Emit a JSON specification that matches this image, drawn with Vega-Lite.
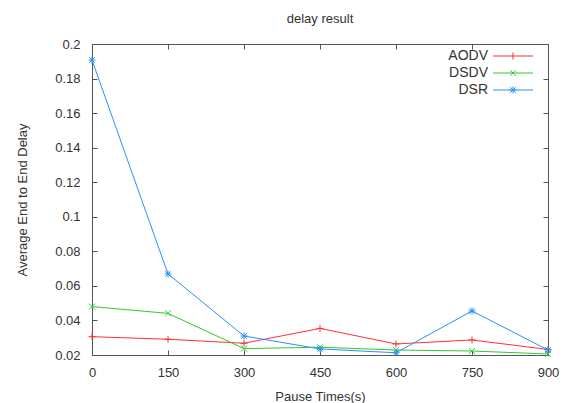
{
  "$schema": "https://vega.github.io/schema/vega-lite/v6.json",
  "width": 456,
  "height": 311,
  "autosize": {"type": "none"},
  "padding": {"left": 92, "top": 44, "right": 20, "bottom": 48},
  "title": {"text": "delay result", "fontSize": 13, "fontWeight": "normal", "font": "Liberation Sans", "color": "#333", "offset": 12},
  "config": {"view": {"stroke": "#555", "strokeWidth": 1}, "font": "Liberation Sans"},
  "data": {"values": [
    {"series": "AODV", "x": 0, "y": 0.0306},
    {"series": "AODV", "x": 150, "y": 0.0291},
    {"series": "AODV", "x": 300, "y": 0.0268},
    {"series": "AODV", "x": 450, "y": 0.0354},
    {"series": "AODV", "x": 600, "y": 0.0264},
    {"series": "AODV", "x": 750, "y": 0.0287},
    {"series": "AODV", "x": 900, "y": 0.0232},
    {"series": "DSDV", "x": 0, "y": 0.048},
    {"series": "DSDV", "x": 150, "y": 0.0441},
    {"series": "DSDV", "x": 300, "y": 0.0237},
    {"series": "DSDV", "x": 450, "y": 0.0245},
    {"series": "DSDV", "x": 600, "y": 0.0229},
    {"series": "DSDV", "x": 750, "y": 0.0223},
    {"series": "DSDV", "x": 900, "y": 0.0206},
    {"series": "DSR", "x": 0, "y": 0.1907},
    {"series": "DSR", "x": 150, "y": 0.0669},
    {"series": "DSR", "x": 300, "y": 0.031},
    {"series": "DSR", "x": 450, "y": 0.0235},
    {"series": "DSR", "x": 600, "y": 0.0213},
    {"series": "DSR", "x": 750, "y": 0.0455},
    {"series": "DSR", "x": 900, "y": 0.0229}
  ]},
  "layer": [
    {
      "mark": {"type": "line", "strokeWidth": 1},
      "encoding": {
        "x": {"field": "x", "type": "quantitative", "scale": {"domain": [0, 900]},
          "axis": {"values": [0, 150, 300, 450, 600, 750, 900], "labelFlush": false, "tickSize": -5, "labelPadding": 16, "domain": false, "grid": false, "tickColor": "#555", "labelFont": "Liberation Sans", "labelFontSize": 13, "labelColor": "#333", "title": "Pause Times(s)", "titleFont": "Liberation Sans", "titleFontSize": 13, "titleFontWeight": "normal", "titleColor": "#333", "titlePadding": 11}},
        "y": {"field": "y", "type": "quantitative", "scale": {"domain": [0.02, 0.2]},
          "axis": {"values": [0.02, 0.04, 0.06, 0.08, 0.1, 0.12, 0.14, 0.16, 0.18, 0.2], "format": "~g", "labelFlush": false, "tickSize": -5, "labelPadding": 17, "domain": false, "grid": false, "tickColor": "#555", "labelFont": "Liberation Sans", "labelFontSize": 13, "labelColor": "#333", "title": "Average End to End Delay", "titleFont": "Liberation Sans", "titleFontSize": 13, "titleFontWeight": "normal", "titleColor": "#333", "titlePadding": 25}},
        "color": {"field": "series", "type": "nominal", "scale": {"domain": ["AODV", "DSDV", "DSR"], "range": ["#ff3030", "#30c830", "#2a90ff"]}, "legend": null}
      }
    },
    {
      "transform": [{"filter": "datum.series === 'AODV'"}],
      "mark": {"type": "point", "shape": "M-1,0H1M0,-1V1", "size": 49, "filled": false, "strokeWidth": 1, "opacity": 1},
      "encoding": {
        "x": {"field": "x", "type": "quantitative", "axis": null},
        "y": {"field": "y", "type": "quantitative", "axis": null},
        "color": {"field": "series", "type": "nominal", "legend": null}
      }
    },
    {
      "transform": [{"filter": "datum.series === 'DSDV'"}],
      "mark": {"type": "point", "shape": "M-1,-1L1,1M-1,1L1,-1", "size": 36, "filled": false, "strokeWidth": 1, "opacity": 1},
      "encoding": {
        "x": {"field": "x", "type": "quantitative", "axis": null},
        "y": {"field": "y", "type": "quantitative", "axis": null},
        "color": {"field": "series", "type": "nominal", "legend": null}
      }
    },
    {
      "transform": [{"filter": "datum.series === 'DSR'"}],
      "mark": {"type": "point", "shape": "M-1,0H1M0,-1V1M-0.8,-0.8L0.8,0.8M-0.8,0.8L0.8,-0.8", "size": 49, "filled": false, "strokeWidth": 1, "opacity": 1},
      "encoding": {
        "x": {"field": "x", "type": "quantitative", "axis": null},
        "y": {"field": "y", "type": "quantitative", "axis": null},
        "color": {"field": "series", "type": "nominal", "legend": null}
      }
    },
    {
      "mark": {"type": "point", "size": 64, "filled": false, "strokeWidth": 1, "opacity": 0},
      "encoding": {
        "x": {"field": "x", "type": "quantitative",
          "axis": {"orient": "top", "values": [0, 150, 300, 450, 600, 750, 900], "tickSize": -5, "labels": false, "domain": false, "grid": false, "tickColor": "#555", "title": null}},
        "y": {"field": "y", "type": "quantitative",
          "axis": {"orient": "right", "values": [0.02, 0.04, 0.06, 0.08, 0.1, 0.12, 0.14, 0.16, 0.18, 0.2], "tickSize": -5, "labels": false, "domain": false, "grid": false, "tickColor": "#555", "title": null}},
        "color": {"field": "series", "type": "nominal",
          "legend": {"orient": "none", "legendX": 414, "legendY": 5, "title": null, "padding": 0, "labelAlign": "right", "labelOffset": -32, "labelFont": "Liberation Sans", "labelFontSize": 14, "labelColor": "#333", "symbolSize": 64, "symbolOpacity": 1, "symbolStrokeWidth": 1, "rowPadding": 3}},
        "shape": {"field": "series", "type": "nominal",
          "scale": {"domain": ["AODV", "DSDV", "DSR"], "range": ["M-5,0H5M0,-0.9V0.9", "M-5,0H5M-0.7,-0.7L0.7,0.7M-0.7,0.7L0.7,-0.7", "M-5,0H5M-0.9,0H0.9M0,-0.9V0.9M-0.7,-0.7L0.7,0.7M-0.7,0.7L0.7,-0.7"]},
          "legend": {"orient": "none", "legendX": 414, "legendY": 5, "title": null, "padding": 0, "labelAlign": "right", "labelOffset": -32, "labelFont": "Liberation Sans", "labelFontSize": 14, "labelColor": "#333", "symbolSize": 64, "symbolOpacity": 1, "symbolStrokeWidth": 1, "rowPadding": 3}}
      }
    }
  ],
  "resolve": {"axis": {"x": "independent", "y": "independent"}, "legend": {"color": "independent", "shape": "independent"}}
}
